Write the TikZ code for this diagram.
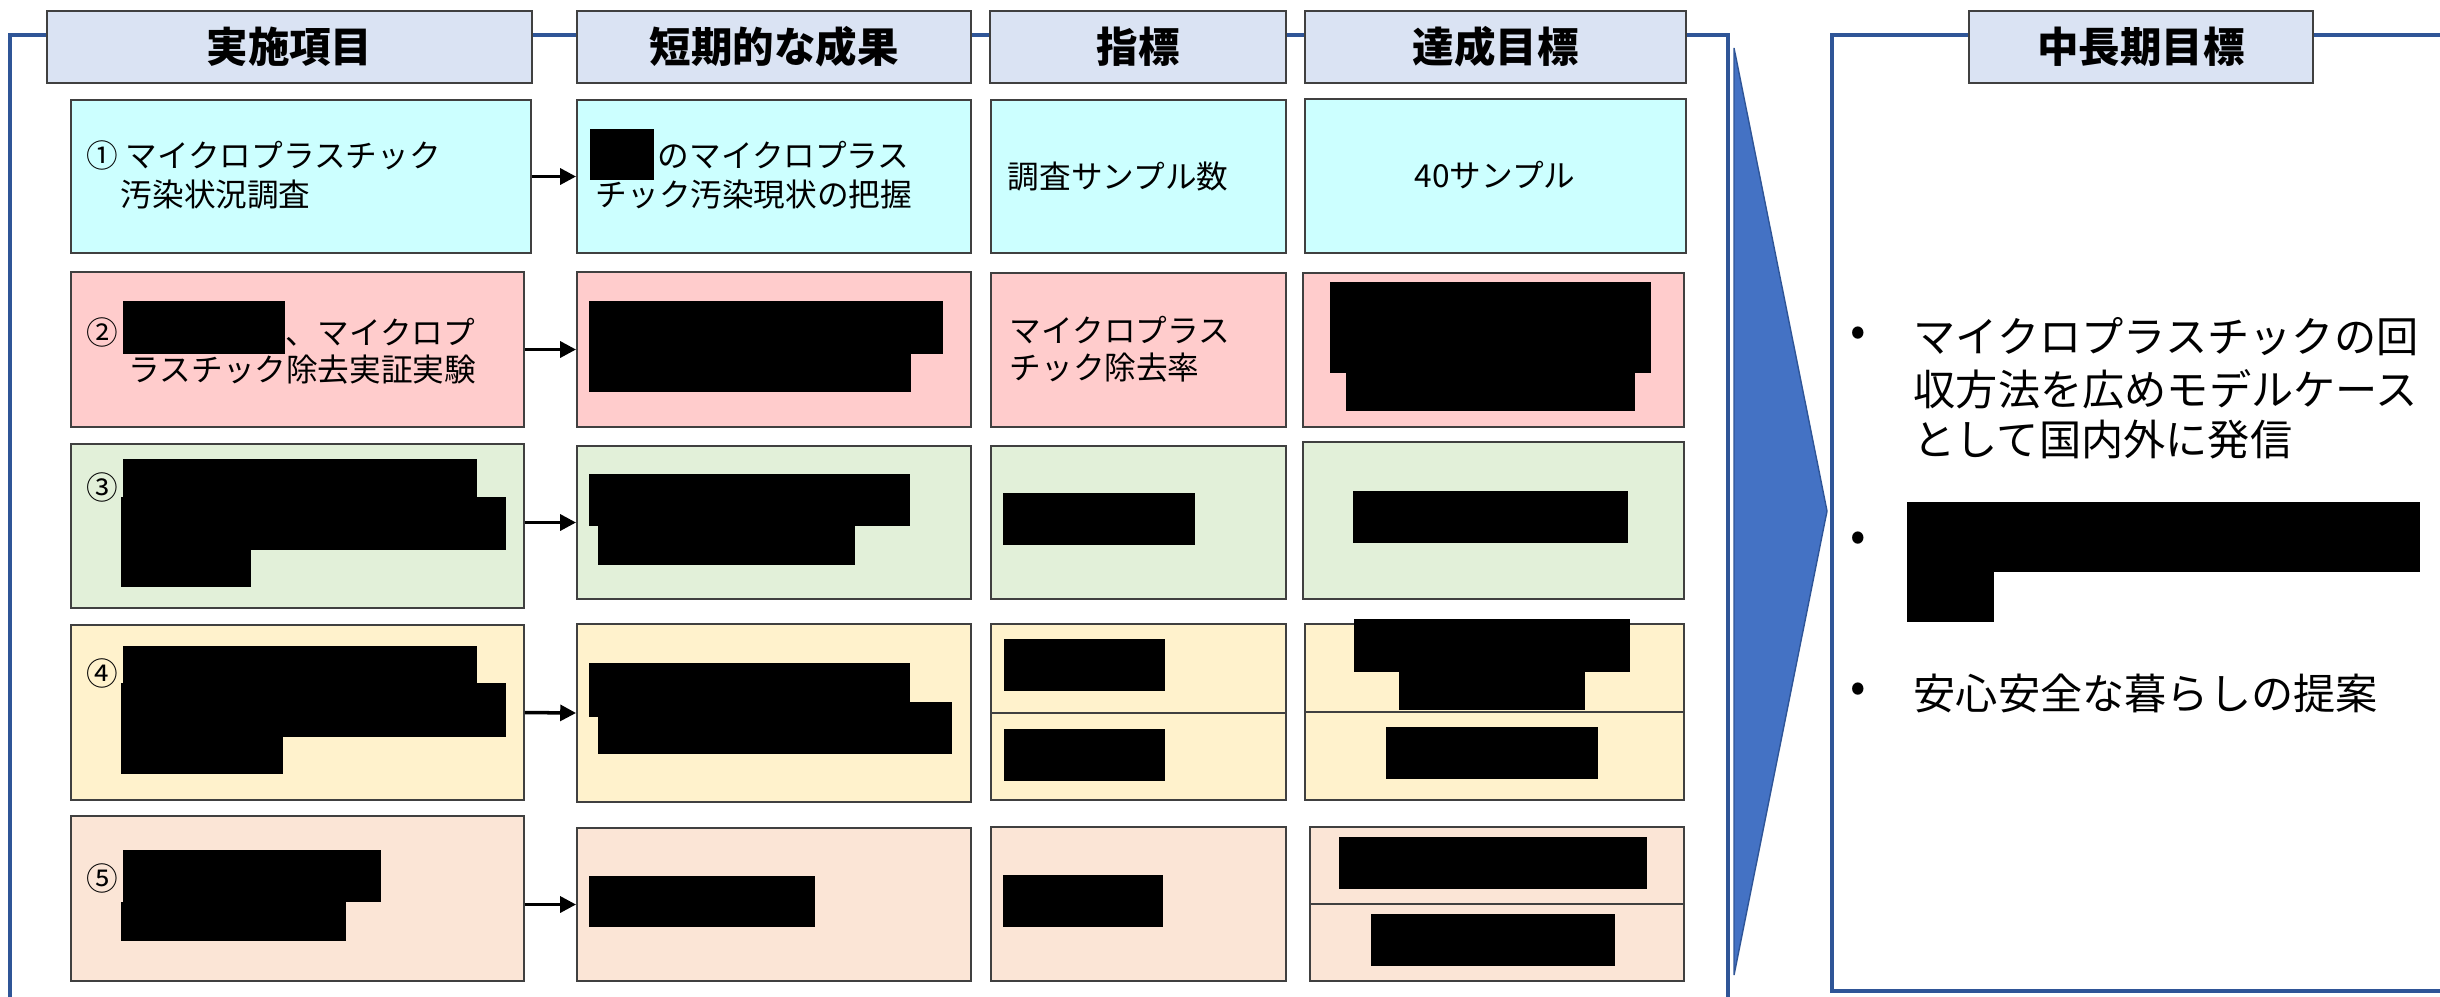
\documentclass[tikz,border=0pt]{standalone}
\usepackage{fontspec}
\setmainfont{Noto Sans CJK JP}
\usetikzlibrary{fit,arrows.meta}
\definecolor{frm}{HTML}{2F5597}
\definecolor{chev}{HTML}{4472C4}
\definecolor{hdrfill}{HTML}{DAE3F3}
\definecolor{bord}{HTML}{404040}
\definecolor{cA}{HTML}{CCFFFF}
\definecolor{cB}{HTML}{FFCCCC}
\definecolor{cC}{HTML}{E2F0D9}
\definecolor{cD}{HTML}{FFF2CC}
\definecolor{cE}{HTML}{FBE5D6}
\begin{document}
\begin{tikzpicture}[x=0.01cm,y=-0.01cm,
  frame/.style={draw=frm, line width=1.15pt},
  cell/.style={draw=bord, line width=0.55pt, inner sep=0pt},
  hdr/.style={draw=bord, fill=hdrfill, line width=0.7pt, inner sep=0pt},
  hdrtxt/.style={anchor=center, inner sep=0pt, font=\fontsize{11.8pt}{14pt}\selectfont\bfseries},
  txt/.style={anchor=west, inner sep=0pt, font=\fontsize{9pt}{10.8pt}\selectfont},
  ctxt/.style={anchor=center, inner sep=0pt, font=\fontsize{9pt}{10.8pt}\selectfont},
  big/.style={anchor=west, inner sep=0pt, font=\fontsize{12pt}{14.5pt}\selectfont},
  bul/.style={anchor=center, inner sep=0pt, font=\fontsize{13pt}{14.5pt}\selectfont},
  arr/.style={-{Triangle[length=4.5pt,width=4.5pt]}, line width=1pt},
  blk/.style={fill=black}]
\useasboundingbox (0,0) rectangle (2440,996);

% frames
\draw[frame] (10,1000) -- (10,35) -- (1728,35) -- (1728,1000);
\draw[frame] (2450,991) -- (1832,991) -- (1832,35) -- (2450,35);
\filldraw[fill=chev, draw=frm, line width=0.4pt] (1734,48) -- (1827,511) -- (1734,975) -- cycle;

% headers
\node[hdr, fit={(47,11)(532,83)}] (h1) {};
\node[hdr, fit={(577,11)(971,83)}] (h2) {};
\node[hdr, fit={(990,11)(1286,83)}] (h3) {};
\node[hdr, fit={(1305,11)(1686,83)}] (h4) {};
\node[hdr, fit={(1969,11)(2313,83)}] (h5) {};
\node[hdrtxt] (h1t) at (h1.center) {実施項目};
\node[hdrtxt] (h2t) at (h2.center) {短期的な成果};
\node[hdrtxt] (h3t) at (h3.center) {指標};
\node[hdrtxt] (h4t) at (h4.center) {達成目標};
\node[hdrtxt] (h5t) at (h5.center) {中長期目標};

% row 1
\node[cell, fill=cA, fit={(71,100)(531,253)}] (r1c1) {};
\node[cell, fill=cA, fit={(577,100)(971,253)}] (r1c2) {};
\node[cell, fill=cA, fit={(991,100)(1286,253)}] (r1c3) {};
\node[cell, fill=cA, fit={(1305,99)(1686,253)}] (r1c4) {};
% row 2
\node[cell, fill=cB, fit={(71,272)(524,427)}] (r2c1) {};
\node[cell, fill=cB, fit={(577,272)(971,427)}] (r2c2) {};
\node[cell, fill=cB, fit={(991,273)(1286,427)}] (r2c3) {};
\node[cell, fill=cB, fit={(1303,273)(1684,427)}] (r2c4) {};
% row 3
\node[cell, fill=cC, fit={(71,444)(524,608)}] (r3c1) {};
\node[cell, fill=cC, fit={(577,446)(971,599)}] (r3c2) {};
\node[cell, fill=cC, fit={(991,446)(1286,599)}] (r3c3) {};
\node[cell, fill=cC, fit={(1303,442)(1684,599)}] (r3c4) {};
% row 4
\node[cell, fill=cD, fit={(71,625)(524,800)}] (r4c1) {};
\node[cell, fill=cD, fit={(577,624)(971,802)}] (r4c2) {};
\node[cell, fill=cD, fit={(991,624)(1286,713)}] (r4c3a) {};
\node[cell, fill=cD, fit={(991,713)(1286,800)}] (r4c3b) {};
\node[cell, fill=cD, fit={(1305,624)(1684,712)}] (r4c4a) {};
\node[cell, fill=cD, fit={(1305,712)(1684,800)}] (r4c4b) {};
% row 5
\node[cell, fill=cE, fit={(71,816)(524,981)}] (r5c1) {};
\node[cell, fill=cE, fit={(577,828)(971,981)}] (r5c2) {};
\node[cell, fill=cE, fit={(991,827)(1286,981)}] (r5c3) {};
\node[cell, fill=cE, fit={(1310,827)(1684,904)}] (r5c4a) {};
\node[cell, fill=cE, fit={(1310,904)(1684,981)}] (r5c4b) {};

% texts
\node[txt] (t11a) at (86,155) {① マイクロプラスチック};
\node[txt] (t11b) at (120,195) {汚染状況調査};
\node[txt] (t12a) at (657,155) {のマイクロプラス};
\node[txt] (t12b) at (595,195) {チック汚染現状の把握};
\node[txt] (t13) at (1007,177) {調査サンプル数};
\node[ctxt] (t14) at (1495,175) {40サンプル};
\node[txt] (t21a) at (86,332) {②};
\node[txt] (t21b) at (285,332) {、マイクロプ};
\node[txt] (t21c) at (128,370) {ラスチック除去実証実験};
\node[txt] (t23a) at (1009,330) {マイクロプラス};
\node[txt] (t23b) at (1009,368) {チック除去率};
\node[txt] (t31) at (86,487) {③};
\node[txt] (t41) at (86,673) {④};
\node[txt] (t51) at (86,878) {⑤};

\node[bul] (b1) at (1858,337) {•};
\node[big] (m1a) at (1913,337) {マイクロプラスチックの回};
\node[big] (m1b) at (1913,389) {収方法を広めモデルケース};
\node[big] (m1c) at (1913,440) {として国内外に発信};
\node[bul] (b2) at (1858,542) {•};
\node[bul] (b3) at (1858,693) {•};
\node[big] (m3) at (1913,693) {安心安全な暮らしの提案};

% redactions
\fill[blk] (590,129) rectangle (654,180);
\fill[blk] (123,301) rectangle (285,354);
\fill[blk] (589,301) rectangle (943,354);
\fill[blk] (589,354) rectangle (911,392);
\fill[blk] (1330,282) rectangle (1651,373);
\fill[blk] (1346,373) rectangle (1635,411);
\fill[blk] (123,459) rectangle (477,497);
\fill[blk] (121,497) rectangle (506,550);
\fill[blk] (121,550) rectangle (251,587);
\fill[blk] (589,474) rectangle (910,526);
\fill[blk] (598,526) rectangle (855,565);
\fill[blk] (1003,493) rectangle (1195,545);
\fill[blk] (1353,491) rectangle (1628,543);
\fill[blk] (123,646) rectangle (477,683);
\fill[blk] (121,683) rectangle (506,737);
\fill[blk] (121,737) rectangle (283,774);
\fill[blk] (589,663) rectangle (910,717);
\fill[blk] (598,702) rectangle (952,754);
\fill[blk] (1004,639) rectangle (1165,691);
\fill[blk] (1004,729) rectangle (1165,781);
\fill[blk] (1354,619) rectangle (1630,672);
\fill[blk] (1399,672) rectangle (1585,710);
\fill[blk] (1386,727) rectangle (1598,779);
\fill[blk] (123,850) rectangle (381,902);
\fill[blk] (121,902) rectangle (346,941);
\fill[blk] (589,876) rectangle (815,927);
\fill[blk] (1003,875) rectangle (1163,927);
\fill[blk] (1339,837) rectangle (1647,889);
\fill[blk] (1371,914) rectangle (1615,966);
\fill[blk] (1907,502) rectangle (2420,572);
\fill[blk] (1907,572) rectangle (1994,622);

% arrows
\draw[arr] (r1c1.east) -- (r1c2.west);
\draw[arr] (r2c1.east) -- (r2c2.west);
\draw[arr] (r3c1.east |- r3c2.west) -- (r3c2.west);
\draw[arr] (r4c1.east) -- (r4c2.west);
\draw[arr] (r5c1.east |- r5c2.west) -- (r5c2.west);
\end{tikzpicture}
\end{document}
